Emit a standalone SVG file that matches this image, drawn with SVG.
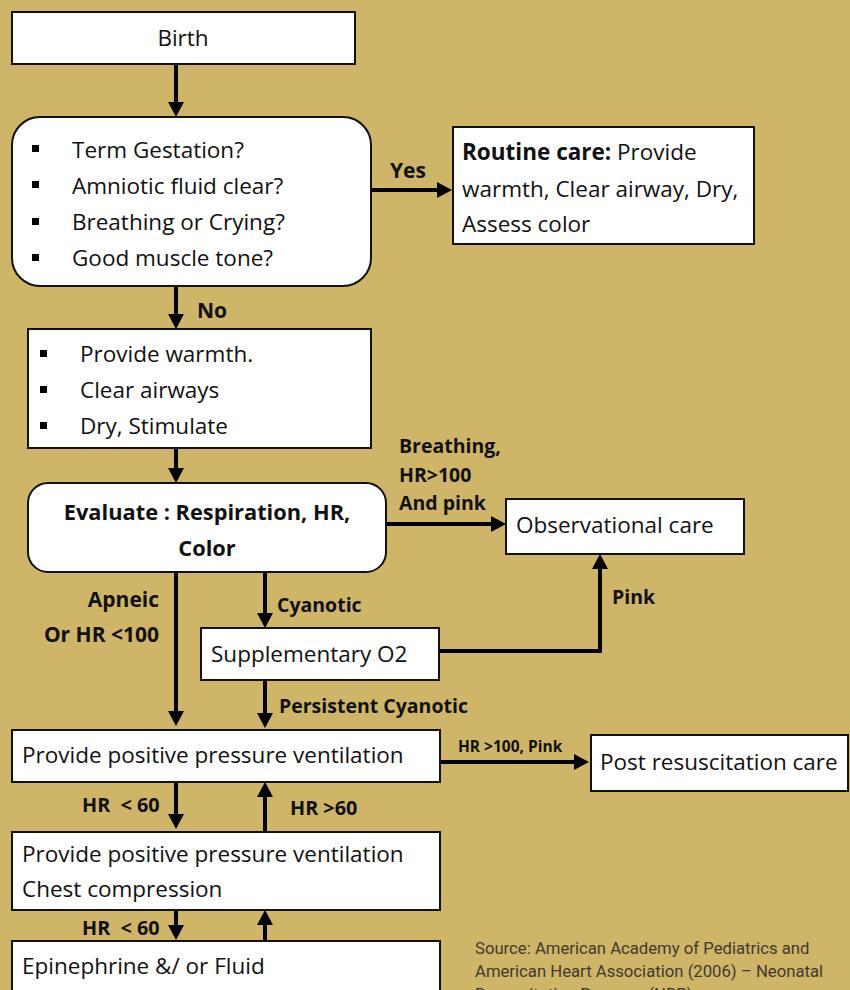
<svg xmlns="http://www.w3.org/2000/svg" width="850" height="990" viewBox="0 0 850 990">
<defs>
<style>
.box{fill:#fff;stroke:#111;stroke-width:2}
.t{font-family:"Open Sans","Liberation Sans",sans-serif;font-size:22.5px;fill:#111}
.b{font-family:"Open Sans","Liberation Sans",sans-serif;font-size:21px;font-weight:bold;fill:#111}
.m{font-size:19.5px}
.h{font-size:19.8px}
.e{font-size:21.8px}
.s{font-family:"Open Sans","Liberation Sans",sans-serif;font-size:15.5px;font-weight:bold;fill:#111}
.src{font-family:Roboto,"Liberation Sans",sans-serif;font-size:16.7px;fill:#3f3a30}
.c{fill:none;stroke:#000;stroke-width:4;marker-end:url(#ah)}
.bul{fill:#000}
</style>
<marker id="ah" markerUnits="userSpaceOnUse" markerWidth="16" markerHeight="16" refX="6" refY="8" orient="auto">
<path d="M0,0 L15,8 L0,16 z" fill="#000"/>
</marker>
</defs>
<rect width="850" height="990" fill="#cfb567"/>

<g id="connectors">
<path class="c" d="M176,64 V108"/>
<path class="c" d="M371,190 H443"/>
<path class="c" d="M176,287 V320"/>
<path class="c" d="M176,448 V474"/>
<path class="c" d="M387,524 H497"/>
<path class="c" d="M439,651 H600 V563"/>
<path class="c" d="M176,572 V717"/>
<path class="c" d="M265,572 V619"/>
<path class="c" d="M265,680 V719"/>
<path class="c" d="M440,762 H580"/>
<path class="c" d="M176,782 V820"/>
<path class="c" d="M265,832 V791"/>
<path class="c" d="M176,910 V931"/>
<path class="c" d="M265,941 V919"/>
<text class="b" x="390" y="178">Yes</text>
<text class="b" x="197" y="318">No</text>
<text class="b m" x="399" y="453">Breathing,</text>
<text class="b m" x="399" y="482">HR&gt;100</text>
<text class="b m" x="399" y="510">And pink</text>
<text class="b m" x="612" y="604">Pink</text>
<text class="b" x="159" y="607" text-anchor="end">Apneic</text>
<text class="b" x="159" y="642" text-anchor="end">Or HR &lt;100</text>
<text class="b m" x="277" y="612">Cyanotic</text>
<text class="b m" x="279" y="713">Persistent Cyanotic</text>
<text class="s" x="458" y="752">HR &gt;100, Pink</text>
<text class="b h" x="82" y="812" xml:space="preserve">HR  &lt; 60</text>
<text class="b h" x="290" y="815">HR &gt;60</text>
<text class="b h" x="82" y="935" xml:space="preserve">HR  &lt; 60</text>
</g>

<g id="birth">
<rect class="box" x="12" y="12" width="343" height="52"/>
<text class="t" x="183" y="46" text-anchor="middle">Birth</text>
</g>

<g id="assess">
<rect class="box" x="12" y="117" width="359" height="169" rx="28"/>
<rect class="bul" x="32" y="145" width="7" height="7"/>
<rect class="bul" x="32" y="181" width="7" height="7"/>
<rect class="bul" x="32" y="218" width="7" height="7"/>
<rect class="bul" x="32" y="254" width="7" height="7"/>
<text class="t" x="72" y="158">Term Gestation?</text>
<text class="t" x="72" y="194">Amniotic fluid clear?</text>
<text class="t" x="72" y="230">Breathing or Crying?</text>
<text class="t" x="72" y="266">Good muscle tone?</text>
</g>

<g id="routine">
<rect class="box" x="453" y="127" width="301" height="117"/>
<text class="t" x="462" y="160"><tspan font-weight="bold">Routine care:</tspan> Provide</text>
<text class="t" x="462" y="197">warmth, Clear airway, Dry,</text>
<text class="t" x="462" y="232">Assess color</text>
</g>

<g id="initial">
<rect class="box" x="28" y="329" width="343" height="119"/>
<rect class="bul" x="40" y="350" width="7" height="7"/>
<rect class="bul" x="40" y="386" width="7" height="7"/>
<rect class="bul" x="40" y="422" width="7" height="7"/>
<text class="t" x="80" y="362">Provide warmth.</text>
<text class="t" x="80" y="398">Clear airways</text>
<text class="t" x="80" y="434">Dry, Stimulate</text>
</g>

<g id="evaluate">
<rect class="box" x="28" y="483" width="358" height="89" rx="20"/>
<text class="b e" x="207" y="520" text-anchor="middle">Evaluate : Respiration, HR,</text>
<text class="b e" x="207" y="556" text-anchor="middle">Color</text>
</g>

<g id="observational">
<rect class="box" x="506" y="499" width="238" height="55"/>
<text class="t" x="516" y="533">Observational care</text>
</g>

<g id="supplementary">
<rect class="box" x="201" y="628" width="238" height="52"/>
<text class="t" x="211" y="662">Supplementary O2</text>
</g>

<g id="ppv">
<rect class="box" x="12" y="730" width="428" height="52"/>
<text class="t" x="22" y="763">Provide positive pressure ventilation</text>
</g>

<g id="post">
<rect class="box" x="591" y="735" width="257" height="56"/>
<text class="t" x="600" y="770">Post resuscitation care</text>
</g>

<g id="ppvcc">
<rect class="box" x="12" y="832" width="428" height="78"/>
<text class="t" x="22" y="862">Provide positive pressure ventilation</text>
<text class="t" x="22" y="897">Chest compression</text>
</g>

<g id="epi">
<rect class="box" x="12" y="941" width="428" height="70"/>
<text class="t" x="22" y="974">Epinephrine &amp;/ or Fluid</text>
</g>

<g id="source">
<text class="src" x="475" y="954">Source: American Academy of Pediatrics and</text>
<text class="src" x="475" y="977">American Heart Association (2006) – Neonatal</text>
<text class="src" x="475" y="1000">Resuscitation Program (NRP)</text>
</g>
</svg>
